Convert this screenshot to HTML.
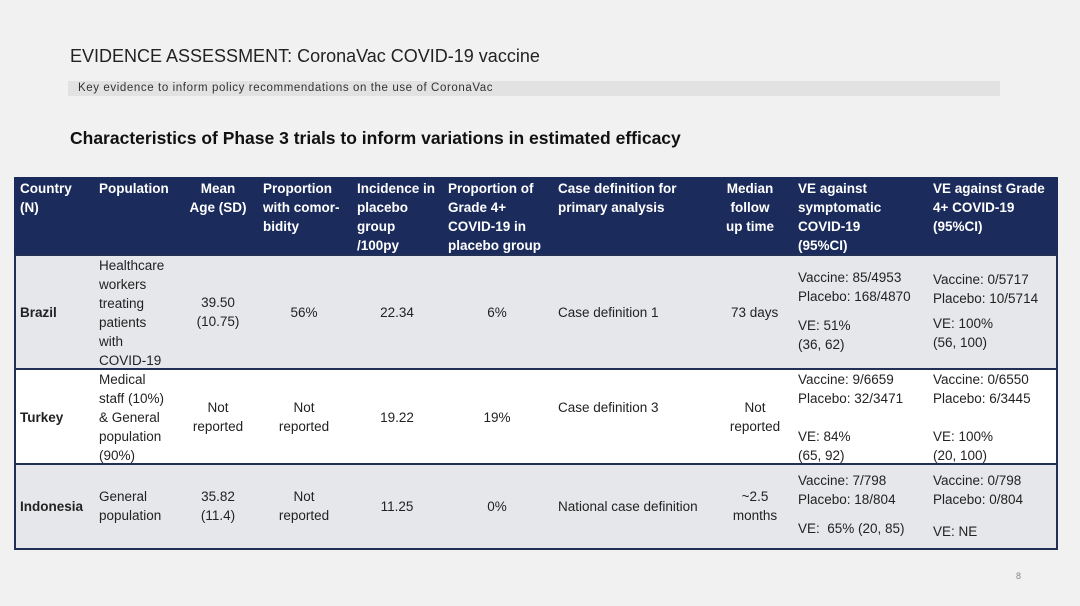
<!DOCTYPE html>
<html><head><meta charset="utf-8"><style>
body{margin:0;width:1080px;height:606px;background:#f1f1f1;position:relative;overflow:hidden;font-family:"Liberation Sans",sans-serif;color:#222}
.a{position:absolute;white-space:nowrap;font-size:13.5px;line-height:19px}
.c{text-align:center}
.h{color:#fff;font-weight:bold;font-size:13.5px}
.r{position:absolute;left:14px;width:1040px;border:2px solid #223055;}
</style></head><body>
<div class="a" style="left:70px;top:44px;font-size:18px;line-height:24px;color:#222">EVIDENCE ASSESSMENT: CoronaVac COVID-19 vaccine</div>
<div style="position:absolute;left:68px;top:81px;width:932px;height:15px;background:#e2e2e2"></div>
<div class="a" style="left:78px;top:80px;font-size:11.5px;line-height:17px;letter-spacing:0.6px;color:#333">Key evidence to inform policy recommendations on the use of CoronaVac</div>
<div class="a" style="left:70px;top:126px;font-size:17.5px;line-height:24px;font-weight:bold;color:#111">Characteristics of Phase 3 trials to inform variations in estimated efficacy</div>

<div style="position:absolute;left:14px;top:177px;width:1044px;height:78px;background:#1b2b5b"></div>
<div class="r" style="top:254px;height:114px;background:#e6e7ea"></div>
<div class="r" style="top:368px;height:95px;background:#fff"></div>
<div class="r" style="top:463px;height:83px;background:#e6e7ea"></div>

<div class="a h" style="left:20px;top:179px">Country<br>(N)</div>
<div class="a h" style="left:99px;top:179px">Population</div>
<div class="a h c" style="left:188px;width:60px;top:179px">Mean<br>Age (SD)</div>
<div class="a h" style="left:263px;top:179px">Proportion<br>with comor-<br>bidity</div>
<div class="a h" style="left:357px;top:179px">Incidence in<br>placebo<br>group<br>/100py</div>
<div class="a h" style="left:448px;top:179px">Proportion of<br>Grade 4+<br>COVID-19 in<br>placebo group</div>
<div class="a h" style="left:558px;top:179px">Case definition for<br>primary analysis</div>
<div class="a h c" style="left:720px;width:60px;top:179px">Median<br>follow<br>up time</div>
<div class="a h" style="left:798px;top:179px">VE against<br>symptomatic<br>COVID-19<br>(95%CI)</div>
<div class="a h" style="left:933px;top:179px">VE against Grade<br>4+ COVID-19<br>(95%CI)</div>

<!-- Brazil -->
<div class="a" style="left:20px;top:303px;font-weight:bold">Brazil</div>
<div class="a" style="left:99px;top:256px">Healthcare<br>workers<br>treating<br>patients<br>with<br>COVID-19</div>
<div class="a c" style="left:180px;width:76px;top:293px">39.50<br>(10.75)</div>
<div class="a c" style="left:264px;width:80px;top:303px">56%</div>
<div class="a c" style="left:357px;width:80px;top:303px">22.34</div>
<div class="a c" style="left:457px;width:80px;top:303px">6%</div>
<div class="a" style="left:558px;top:303px">Case definition 1</div>
<div class="a" style="left:731px;top:303px">73 days</div>
<div class="a" style="left:798px;top:268px">Vaccine: 85/4953<br>Placebo: 168/4870</div>
<div class="a" style="left:798px;top:316px">VE: 51%<br>(36, 62)</div>
<div class="a" style="left:933px;top:270px">Vaccine: 0/5717<br>Placebo: 10/5714</div>
<div class="a" style="left:933px;top:314px">VE: 100%<br>(56, 100)</div>

<!-- Turkey -->
<div class="a" style="left:20px;top:408px;font-weight:bold">Turkey</div>
<div class="a" style="left:99px;top:370px">Medical<br>staff (10%)<br>&amp; General<br>population<br>(90%)</div>
<div class="a c" style="left:180px;width:76px;top:398px">Not<br>reported</div>
<div class="a c" style="left:264px;width:80px;top:398px">Not<br>reported</div>
<div class="a c" style="left:357px;width:80px;top:408px">19.22</div>
<div class="a c" style="left:457px;width:80px;top:408px">19%</div>
<div class="a" style="left:558px;top:398px">Case definition 3</div>
<div class="a c" style="left:722px;width:66px;top:398px">Not<br>reported</div>
<div class="a" style="left:798px;top:370px">Vaccine: 9/6659<br>Placebo: 32/3471</div>
<div class="a" style="left:798px;top:427px">VE: 84%<br>(65, 92)</div>
<div class="a" style="left:933px;top:370px">Vaccine: 0/6550<br>Placebo: 6/3445</div>
<div class="a" style="left:933px;top:427px">VE: 100%<br>(20, 100)</div>

<!-- Indonesia -->
<div class="a" style="left:20px;top:497px;font-weight:bold">Indonesia</div>
<div class="a" style="left:99px;top:487px">General<br>population</div>
<div class="a c" style="left:180px;width:76px;top:487px">35.82<br>(11.4)</div>
<div class="a c" style="left:264px;width:80px;top:487px">Not<br>reported</div>
<div class="a c" style="left:357px;width:80px;top:497px">11.25</div>
<div class="a c" style="left:457px;width:80px;top:497px">0%</div>
<div class="a" style="left:558px;top:497px">National case definition</div>
<div class="a c" style="left:722px;width:66px;top:487px">~2.5<br>months</div>
<div class="a" style="left:798px;top:471px">Vaccine: 7/798<br>Placebo: 18/804</div>
<div class="a" style="left:798px;top:519px">VE:&nbsp; 65% (20, 85)</div>
<div class="a" style="left:933px;top:471px">Vaccine: 0/798<br>Placebo: 0/804</div>
<div class="a" style="left:933px;top:522px">VE: NE</div>

<div class="a" style="left:1016px;top:567px;font-size:9px;color:#888">8</div>
</body></html>
